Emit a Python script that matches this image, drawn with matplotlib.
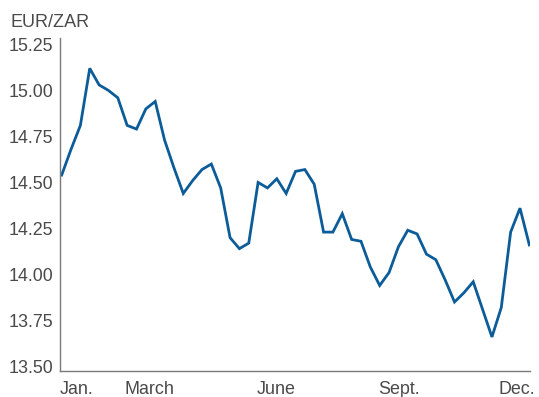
import matplotlib
matplotlib.use("Agg")
import matplotlib.pyplot as plt

# Weekly EUR/ZAR closing rates over the year
weeks = list(range(51))
eur_zar = [
    14.54, 14.68, 14.81, 15.12, 15.03, 15.00, 14.96, 14.81, 14.79, 14.90,
    14.94, 14.73, 14.58, 14.44, 14.51, 14.57, 14.60, 14.47, 14.20, 14.14,
    14.17, 14.50, 14.47, 14.52, 14.44, 14.56, 14.57, 14.49, 14.23, 14.23,
    14.33, 14.19, 14.18, 14.04, 13.94, 14.01, 14.15, 14.24, 14.22, 14.11,
    14.08, 13.97, 13.85, 13.90, 13.96, 13.81, 13.66, 13.82, 14.23, 14.36,
    14.16,
]

month_labels = ["Jan.", "March", "June", "Sept.", "Dec."]
month_pos = [1.6, 9.35, 22.9, 36.1, 48.7]
y_ticks = [13.50, 13.75, 14.00, 14.25, 14.50, 14.75, 15.00, 15.25]

text_color = "#4a4a4a"
axis_color = "#7a7a7a"
line_color = "#0b5c99"

plt.rcParams["font.family"] = ["Liberation Sans", "DejaVu Sans"]

fig = plt.figure(figsize=(5.39, 3.97), dpi=100)
ax = fig.add_axes([60 / 539, 26 / 397, 470 / 539, 333 / 397])

ax.plot(weeks, eur_zar, color=line_color, linewidth=2.0, solid_joinstyle="miter")

ax.set_xlim(-0.18, 50.07)
ax.set_ylim(13.475, 15.285)

ax.set_yticks(y_ticks)
ax.set_yticklabels([f"{v:.2f}" for v in y_ticks])
ax.set_xticks(month_pos)
ax.set_xticklabels(month_labels)

ax.tick_params(axis="both", length=0, labelsize=12.9, labelcolor=text_color)
ax.tick_params(axis="y", pad=5)
ax.tick_params(axis="x", pad=7.5)

for side in ("top", "right"):
    ax.spines[side].set_visible(False)
for side in ("left", "bottom"):
    ax.spines[side].set_color(axis_color)
    ax.spines[side].set_linewidth(1.0)

fig.text(10 / 539, 1 - 27 / 397, "EUR/ZAR", fontsize=13, color=text_color,
         ha="left", va="baseline")

fig.savefig("out.png", dpi=100)
